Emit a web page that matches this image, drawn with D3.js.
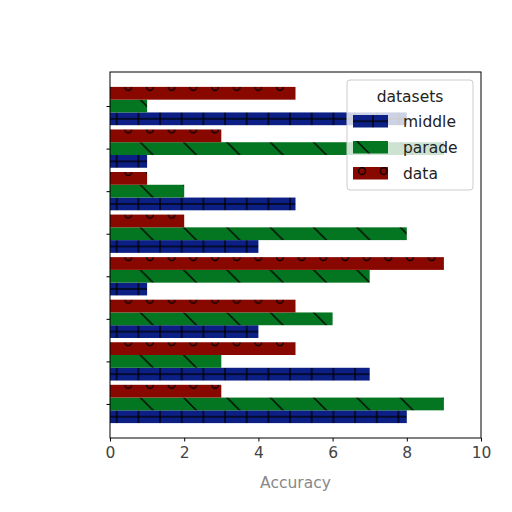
<!DOCTYPE html>
<html>
<head>
<meta charset="utf-8">
<style>
  body { margin: 0; background: #fff; }
  text { font-family: "DejaVu Sans", sans-serif; }
</style>
</head>
<body>
<svg width="512" height="512"></svg>
<script src="https://cdn.jsdelivr.net/npm/d3@7"></script>
<script>

// values per group, bottom group first
var groups = [0, 1, 2, 3, 4, 5, 6, 7];
var middle = [8, 7, 4, 1, 4, 5, 1, 8];
var parade = [9, 3, 6, 7, 8, 2, 9, 1];
var dataVals = [3, 5, 5, 9, 2, 1, 3, 5];
var xTicks = [0, 2, 4, 6, 8, 10];
var seriesNames = ["middle", "parade", "data"];

var svg = d3.select("svg"),
    margin = {top: 72, right: 31, bottom: 74, left: 110},
    width = 512 - margin.left - margin.right,
    height = 512 - margin.top - margin.bottom,
    g = svg.append("g").attr("transform", "translate(" + margin.left + "," + margin.top + ")");

var x = d3.scaleLinear().domain([0, 10]).range([0, width]);
var y = d3.scaleLinear().domain([-0.8, 7.8]).range([height, 0]);

var barH = 0.3;
var series = [
  {name: "middle", values: middle, offset: -0.3, color: "#0b1f84", hatch: "plus"},
  {name: "parade", values: parade, offset: 0, color: "#047520", hatch: "back"},
  {name: "data", values: dataVals, offset: 0.3, color: "#880800", hatch: "ring"}
];

// hatch patterns (userSpaceOnUse = local coords of the element that uses them)
var step = y(0) - y(1);
var defs = svg.append("defs");
var tileW = 21.67, tileH = step / 2;

// x0, yc : where one hatch mark sits
function makePattern(id, s, x0, yc) {
  var p = defs.append("pattern")
      .attr("id", id)
      .attr("patternUnits", "userSpaceOnUse");
  p.append("rect").attr("width", 1000).attr("height", 1000).attr("fill", s.color);
  if (s.hatch == "plus") {
    p.attr("width", tileW).attr("height", tileH)
      .attr("x", x0 - tileW / 2).attr("y", yc - tileH / 2);
    p.append("line").attr("x1", 0).attr("x2", tileW).attr("y1", tileH / 2).attr("y2", tileH / 2);
    p.append("line").attr("x1", tileW / 2).attr("x2", tileW / 2).attr("y1", 0).attr("y2", tileH);
  } else if (s.hatch == "back") {
    var w = tileW * 2;
    p.attr("width", w).attr("height", tileH)
      .attr("x", x0 - w / 2).attr("y", yc - tileH / 2);
    p.append("line").attr("x1", w / 2 - tileH / 2).attr("y1", 0)
      .attr("x2", w / 2 + tileH / 2).attr("y2", tileH);
  } else {
    p.attr("width", tileW).attr("height", tileH)
      .attr("x", x0 - tileW / 2).attr("y", yc - tileH / 2);
    p.append("circle").attr("cx", tileW / 2).attr("cy", tileH / 2).attr("r", 3.4)
      .attr("fill", "none");
  }
  p.selectAll("line, circle").attr("stroke", "#000").attr("stroke-width", 1.3);
}

// chart patterns
makePattern("h-middle", series[0], 6.7, y(-0.3));
makePattern("h-parade", series[1], 36.7, y(0));
makePattern("h-data", series[2], 18.3, y(0.3 + barH / 2));
// legend patterns
makePattern("l-middle", series[0], 26, 6.25);
makePattern("l-parade", series[1], 16, 6.25);
makePattern("l-data", series[2], 15, 4);

// bars
g.selectAll("g.series")
  .data(series)
  .enter().append("g")
    .attr("class", "series")
  .selectAll("rect")
  .data(function(s) { return groups.map(function(i) { return {s: s, i: i, v: s.values[i]}; }); })
  .enter().append("rect")
    .attr("x", x(0))
    .attr("y", function(d) { return y(d.i + d.s.offset + barH / 2); })
    .attr("width", function(d) { return x(d.v) - x(0); })
    .attr("height", function(d) { return y(0) - y(barH); })
    .attr("fill", function(d) { return "url(#h-" + d.s.name + ")"; });

// axes
var xAxis = g.append("g")
    .attr("transform", "translate(0," + height + ")")
    .call(d3.axisBottom(x).tickValues(xTicks).tickSize(3.5).tickPadding(5).tickFormat(d3.format("d")));
xAxis.select(".domain").remove();
xAxis.selectAll("text").attr("font-size", 15.5).attr("fill", "#444");

var yAxis = g.append("g")
    .call(d3.axisLeft(y).tickValues(groups).tickSize(3.5).tickFormat(""));
yAxis.select(".domain").remove();

g.append("rect")
    .attr("width", width)
    .attr("height", height)
    .attr("fill", "none")
    .attr("stroke", "#000")
    .attr("stroke-width", 1);

g.append("text")
    .attr("x", width / 2)
    .attr("y", height + 50)
    .attr("text-anchor", "middle")
    .attr("font-size", 15.5)
    .attr("fill", "#888")
    .text("Accuracy");

// legend
var legend = svg.append("g").attr("transform", "translate(347,80)");
legend.append("rect")
    .attr("width", 126)
    .attr("height", 110)
    .attr("rx", 3)
    .attr("fill", "#fff")
    .attr("fill-opacity", 0.8)
    .attr("stroke", "#ccc");
legend.append("text")
    .attr("x", 63)
    .attr("y", 22)
    .attr("text-anchor", "middle")
    .attr("font-size", 15.5)
    .attr("fill", "#222")
    .text("datasets");

var item = legend.selectAll("g.item")
  .data(series.slice())
  .enter().append("g")
    .attr("class", "item")
    .attr("transform", function(d, i) { return "translate(0," + (35 + i * 26) + ")"; });
item.append("rect")
    .attr("x", 6)
    .attr("width", 35)
    .attr("height", 12.5)
    .attr("fill", function(d) { return "url(#l-" + d.name + ")"; });
item.append("text")
    .attr("x", 56)
    .attr("y", 12)
    .attr("font-size", 15.5)
    .attr("fill", "#222")
    .text(function(d) { return d.name; });

</script>
</body>
</html>
